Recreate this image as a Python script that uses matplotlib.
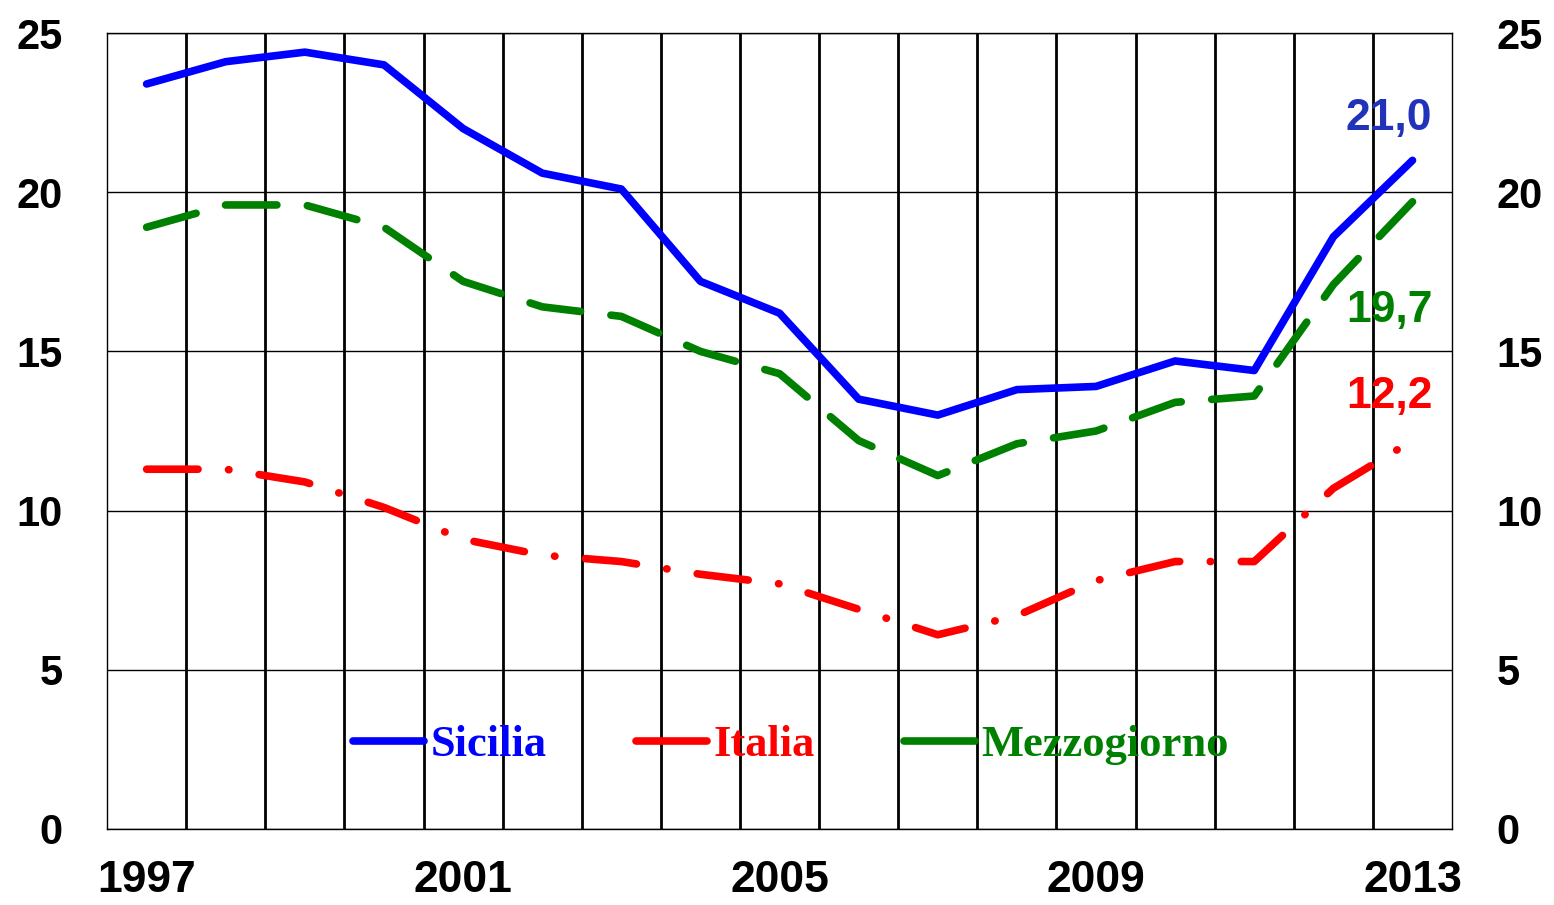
import matplotlib.pyplot as plt
from matplotlib.ticker import MultipleLocator

plt.rcParams["lines.scale_dashes"] = False

years = list(range(1997, 2014))
sicilia = [23.4, 24.1, 24.4, 24.0, 22.0, 20.6, 20.1, 17.2, 16.2, 13.5, 13.0,
           13.8, 13.9, 14.7, 14.4, 18.6, 21.0]
italia = [11.3, 11.3, 10.9, 10.1, 9.1, 8.6, 8.4, 8.0, 7.7, 6.9, 6.1,
          6.7, 7.8, 8.4, 8.4, 10.7, 12.2]
mezzogiorno = [18.9, 19.6, 19.6, 18.9, 17.2, 16.4, 16.1, 15.0, 14.3, 12.2, 11.1,
               12.1, 12.5, 13.4, 13.6, 17.1, 19.7]
xlabels = ["1997", "2001", "2005", "2009", "2013"]

ytick_font = {"family": "Liberation Sans", "weight": "bold", "size": 30}
xtick_font = {"family": "Liberation Sans", "weight": "bold", "size": 32}
note_font = {"family": "Liberation Sans", "weight": "bold", "size": 32}

fig = plt.figure(figsize=(15.54, 9.05), dpi=100)
ax = fig.add_axes([0.0689, 0.0840, 0.8655, 0.8795])

x = list(range(len(years)))
ax.plot(x, sicilia, color="#0000FF", lw=5.5, solid_capstyle="round",
        solid_joinstyle="round", label="Sicilia", zorder=4)
ax.plot(x, italia, color="#FF0000", lw=5.5, dashes=(37, 22, 0.3, 22),
        dash_capstyle="round", label="Italia", zorder=3)
ax.plot(x, mezzogiorno, color="#008000", lw=5.5, dashes=(37, 22),
        dash_capstyle="round", label="Mezzogiorno", zorder=3)

ax.set_xlim(-0.5, len(years) - 0.5)
ax.set_ylim(0, 25)
ax.yaxis.set_major_locator(MultipleLocator(5))
ax.set_xticks([years.index(int(y)) for y in xlabels])
ax.set_xticklabels(xlabels)
ax.set_xticks([i + 0.5 for i in range(len(years) - 1)], minor=True)

ax.grid(axis="y", which="major", color="black", lw=1)
ax.grid(axis="x", which="minor", color="black", lw=2)
ax.set_axisbelow(True)
for s in ax.spines.values():
    s.set_color("black")
    s.set_linewidth(1)

ax.tick_params(axis="both", which="both", length=0)
ax.tick_params(axis="y", labelright=True, pad=32)
ax.tick_params(axis="x", pad=22)
for lab in ax.get_xticklabels():
    lab.set_fontproperties(xtick_font)
for t in ax.yaxis.get_major_ticks():
    t.label1.set_fontproperties(ytick_font)
    t.label2.set_fontproperties(ytick_font)

# end-of-series value labels
ax.text(16.25, 21.0 + 1.33, "21,0", color="#2233BB", ha="right", va="center",
        fontdict=note_font)
ax.text(16.25, 19.7 - 3.43, "19,7", color="#008000", ha="right", va="center",
        fontdict=note_font)
ax.text(16.25, 12.2 + 1.37, "12,2", color="#FF0000", ha="right", va="center",
        fontdict=note_font)

leg = ax.legend(loc="center", bbox_to_anchor=(0.5085, 0.1055), ncol=3,
                frameon=False, handlelength=1.6, handletextpad=0.15,
                columnspacing=2.0,
                prop={"family": "Liberation Serif", "weight": "bold", "size": 32},
                labelcolor="linecolor")
for h in leg.get_lines():
    h.set_linestyle("-")
    h.set_solid_capstyle("round")

fig.savefig("out.png", dpi=100)
